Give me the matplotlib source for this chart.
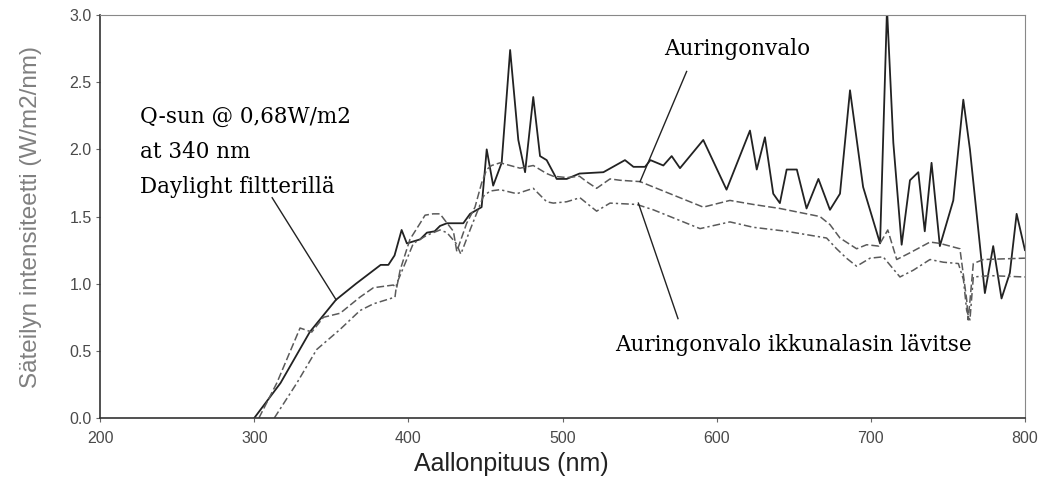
import matplotlib
matplotlib.use("Agg")
import matplotlib.pyplot as plt

# Q-sun @ 0,68 W/m2 (solid, spiky)
qsun_x = [300, 317, 336, 353, 366, 382, 387, 391, 395.6, 399, 407.6, 412, 417, 420.5,
          425, 435.6, 440, 447.5, 450.8, 455, 460.5, 466, 471.3, 475.7, 481, 485.4,
          489.7, 496.2, 502.7, 511, 526.5, 540.5, 546, 553.5, 557, 565.4, 570.8, 576.2,
          591.3, 606.4, 621.6, 626, 631.3, 636.7, 641, 645.4, 652, 658.3, 666, 673.5,
          680, 686.5, 695, 706, 710.5, 714.6, 720, 725.4, 730.8, 735, 739.4, 744.8,
          753.5, 760, 764.3, 774, 779.4, 784.8, 790.2, 794.6, 800]
qsun_y = [0.0, 0.26, 0.64, 0.88, 1.00, 1.14, 1.14, 1.21, 1.40, 1.30, 1.33, 1.38, 1.39, 1.43,
          1.45, 1.45, 1.52, 1.57, 2.00, 1.73, 1.90, 2.74, 2.07, 1.83, 2.39, 1.95,
          1.92, 1.78, 1.78, 1.82, 1.83, 1.92, 1.87, 1.87, 1.92, 1.88, 1.95, 1.86,
          2.07, 1.70, 2.14, 1.85, 2.09, 1.67, 1.60, 1.85, 1.85, 1.56, 1.78, 1.55,
          1.67, 2.44, 1.72, 1.30, 3.05, 2.05, 1.29, 1.77, 1.83, 1.39, 1.90, 1.28,
          1.62, 2.37, 2.00, 0.93, 1.28, 0.89, 1.08, 1.52, 1.25]

# Auringonvalo (dashed)
sun_x = [303, 314.6, 329.7, 337.3, 344.9, 355.7, 368.6, 377.3, 390.2, 392.4, 394.6, 401,
         407.6, 410.8, 416, 420.5, 423.8, 429.2, 431.4, 437.8, 443.2, 447.5, 450.8, 454,
         459.5, 472.4, 481, 489.7, 494, 503, 511, 515.6, 522.1, 530.8, 537.3, 550.3,
         558.9, 569.7, 591.3, 608.6, 623.7, 641, 667, 673.5, 680, 690.8, 697.3, 705,
         711, 716.8, 725.4, 738.4, 744.8, 757.8, 762.2, 763.2, 766.5, 773, 800]
sun_y = [0.0, 0.26, 0.67, 0.64, 0.75, 0.78, 0.90, 0.97, 0.99, 0.97, 1.10, 1.33,
         1.45, 1.51, 1.52, 1.52, 1.47, 1.39, 1.24, 1.45, 1.57, 1.75, 1.85, 1.88,
         1.90, 1.86, 1.88, 1.82, 1.80, 1.79, 1.80, 1.76, 1.71, 1.78, 1.77, 1.76,
         1.72, 1.67, 1.57, 1.62, 1.59, 1.56, 1.50, 1.44, 1.34, 1.26, 1.29, 1.28,
         1.40, 1.18, 1.23, 1.31, 1.30, 1.26, 0.88, 0.73, 1.15, 1.18, 1.19]

# Auringonvalo ikkunalasin lävitse (dash-dot)
win_x = [313, 327.6, 340.5, 355.7, 368.6, 377.3, 391.3, 392.4, 398.9, 403.2, 411.9, 420.5,
         425, 431, 434, 440, 448.6, 453, 459.5, 470.3, 481, 489.7, 494, 502.7, 511.3,
         522.1, 530.8, 548.1, 558.9, 569.7, 589.2, 608.6, 623.7, 645.4, 671.3, 677.8,
         684.2, 690.8, 699.5, 708, 718.9, 727.5, 738.4, 747, 756.8, 760.1, 762.2, 764.3,
         766.5, 777.3, 800]
win_y = [0.0, 0.26, 0.51, 0.66, 0.80, 0.85, 0.90, 1.00, 1.18, 1.30, 1.36, 1.40,
         1.38, 1.30, 1.22, 1.40, 1.65, 1.69, 1.70, 1.67, 1.71, 1.61, 1.60, 1.61, 1.64,
         1.54, 1.60, 1.59, 1.55, 1.50, 1.41, 1.46, 1.42, 1.39, 1.34, 1.26,
         1.19, 1.13, 1.19, 1.20, 1.05, 1.10, 1.18, 1.16, 1.15, 1.03, 0.80, 0.73,
         1.05, 1.06, 1.05]

x_ticks = [200, 300, 400, 500, 600, 700, 800]
y_ticks = [0.0, 0.5, 1.0, 1.5, 2.0, 2.5, 3.0]

fig = plt.figure(figsize=(10.43, 4.78), dpi=100)
ax = fig.add_axes([0.096, 0.1255, 0.8867, 0.843])

ax.plot(qsun_x, qsun_y, color="#222222", lw=1.3)
ax.plot(sun_x, sun_y, color="#5a5a5a", lw=1.1, ls=(0, (5, 2)))
ax.plot(win_x, win_y, color="#5a5a5a", lw=1.1, ls=(0, (5, 2, 1.5, 2)))

ax.set_xlim(200, 800)
ax.set_ylim(0, 3.0)
ax.set_xticks(x_ticks)
ax.set_yticks(y_ticks)
ax.set_yticklabels([f"{v:.1f}" for v in y_ticks])

sans = "Liberation Sans"
serif = "DejaVu Serif"
for lab in ax.get_xticklabels() + ax.get_yticklabels():
    lab.set_fontfamily(sans)
    lab.set_fontsize(11.5)
    lab.set_color("#4a4a4a")
ax.tick_params(axis="x", direction="out", length=3, color="#666666", pad=6)
ax.tick_params(axis="y", direction="out", length=3, color="#666666", pad=3)

for s in ["top", "right"]:
    ax.spines[s].set_color("#888888")
for s in ["left", "bottom"]:
    ax.spines[s].set_color("#333333")
    ax.spines[s].set_linewidth(1.2)

ax.set_xlabel("Aallonpituus (nm)", family=sans, fontsize=18, color="#222222")
ax.xaxis.set_label_coords(0.445, -0.085)
ax.set_ylabel("Säteilyn intensiteetti (W/m2/nm)", family=sans, fontsize=17.5,
              color="#808080", labelpad=20)

# annotations with pointer lines
qsun_lines = ["Q-sun @ 0,68W/m2", "at 340 nm", "Daylight filtterillä"]
for i, line in enumerate(qsun_lines):
    ax.text(226, 2.197 - i * 0.261, line, family=serif, fontsize=15.5,
            va="baseline", ha="left")
ax.plot([311.6, 353.1], [1.64, 0.88], color="#222222", lw=1.0)

ax.text(566, 2.70, "Auringonvalo", family=serif, fontsize=15.5, va="baseline", ha="left")
ax.plot([580.5, 550.3], [2.58, 1.76], color="#222222", lw=1.0)

ax.text(534, 0.50, "Auringonvalo ikkunalasin lävitse", family=serif, fontsize=15.5,
        va="baseline", ha="left")
ax.plot([549.2, 574.9], [1.60, 0.74], color="#222222", lw=1.0)

fig.savefig("out.png", dpi=100)
